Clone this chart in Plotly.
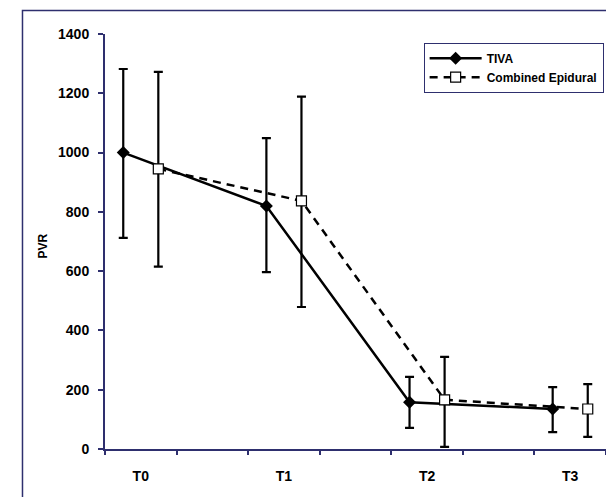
import plotly.graph_objects as go

# Data
categories = ["T0", "T1", "T2", "T3"]
cat_centers = [0.5, 2.5, 4.5, 6.5]
offset = 0.245

tiva = [1000, 820, 158, 135]
tiva_upper = [1282, 1049, 243, 209]
tiva_lower = [712, 597, 71, 57]

comb = [945, 837, 166, 135]
comb_upper = [1272, 1189, 311, 219]
comb_lower = [615, 479, 7, 41]

y_ticks = [0, 200, 400, 600, 800, 1000, 1200, 1400]

tiva_x = [c - offset for c in cat_centers]
comb_x = [c + offset for c in cat_centers]

NAVY = "#2e2f6e"
FONT = "Liberation Sans, Arial, sans-serif"

fig = go.Figure()
fig.add_trace(go.Scatter(
    x=tiva_x, y=tiva, name="TIVA", mode="lines+markers",
    line=dict(color="black", width=2.5),
    marker=dict(symbol="diamond", size=10, color="black"),
    error_y=dict(type="data", symmetric=False,
                 array=[u - v for u, v in zip(tiva_upper, tiva)],
                 arrayminus=[v - l for v, l in zip(tiva, tiva_lower)],
                 color="black", thickness=2.2, width=4.5),
))
fig.add_trace(go.Scatter(
    x=comb_x, y=comb, name="Combined Epidural", mode="lines+markers",
    line=dict(color="black", width=2.5, dash="8px,6px"),
    marker=dict(symbol="square", size=10, color="white",
                line=dict(color="black", width=1.2)),
    error_y=dict(type="data", symmetric=False,
                 array=[u - v for u, v in zip(comb_upper, comb)],
                 arrayminus=[v - l for v, l in zip(comb, comb_lower)],
                 color="black", thickness=2.2, width=4.5),
))

fig.update_layout(
    width=606, height=497,
    margin=dict(l=105, r=0, t=34, b=48),
    paper_bgcolor="white", plot_bgcolor="white",
    font=dict(family=FONT, color="black"),
    showlegend=True,
    legend=dict(
        x=0.636, y=0.979, xanchor="left", yanchor="top",
        bordercolor=NAVY, borderwidth=1, bgcolor="white",
        font=dict(size=12, family=FONT, weight="bold"),
        itemwidth=52, tracegroupgap=0,
    ),
    xaxis=dict(
        range=[0, 7.0], showgrid=False, zeroline=False,
        showline=True, linecolor=NAVY, linewidth=2,
        tickmode="array", tickvals=cat_centers, ticktext=categories,
        ticks="", ticklabelstandoff=13,
        tickfont=dict(size=14, family=FONT, weight="bold"),
        minor=dict(tickmode="array", tickvals=list(range(0, 8)),
                   ticks="outside", ticklen=4, tickcolor=NAVY, tickwidth=1.5),
    ),
    yaxis=dict(
        range=[0, 1400], showgrid=False, zeroline=False,
        showline=True, linecolor=NAVY, linewidth=2,
        tickmode="array", tickvals=y_ticks,
        ticks="outside", ticklen=5, tickcolor=NAVY, tickwidth=1.5,
        ticklabelstandoff=6,
        tickfont=dict(size=14, family=FONT, weight="bold"),
    ),
    annotations=[dict(
        text="PVR", xref="paper", yref="paper", x=-0.142, y=0.49,
        showarrow=False, textangle=-90,
        font=dict(size=12, family=FONT, weight="bold"),
    )],
    shapes=[dict(
        type="rect", xref="paper", yref="paper",
        x0=-0.1647, x1=1.2, y0=-0.3, y1=1.0566,
        line=dict(color=NAVY, width=1.5), layer="below",
    )],
)

fig.write_html("out.html")
